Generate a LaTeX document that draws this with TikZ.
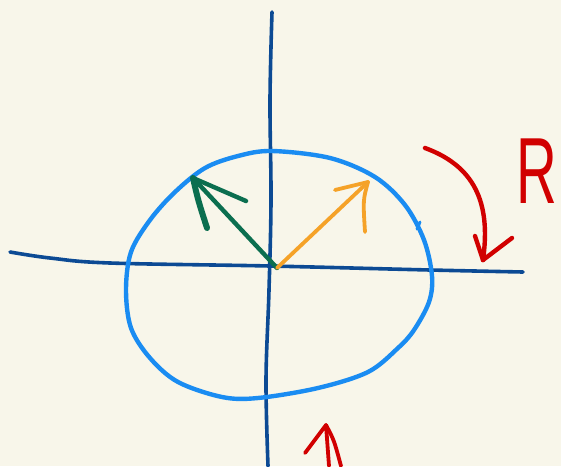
\documentclass[tikz,border=0pt]{standalone}
\usepackage{fontspec}
\newfontfamily\skizze{Liberation Sans}
\definecolor{papier}{HTML}{F8F6EA}
\definecolor{achsblau}{HTML}{0C4A94}
\definecolor{kreisblau}{HTML}{1A8CF2}
\definecolor{gruen}{HTML}{0B6E4F}
\definecolor{orange}{HTML}{F5A228}
\definecolor{rot}{HTML}{D10000}
\begin{document}
\begin{tikzpicture}[x=1pt, y=-1pt,
  stift/.style={line width=4pt, line cap=round, line join=round},
  achse/.style={stift, achsblau, line width=3.6pt},
  kreis/.style={stift, kreisblau, line width=4.4pt},
  pfeil/.style={stift, line width=4.4pt}]
  \useasboundingbox (0,0) rectangle (561,466);
  \fill[papier] (0,0) rectangle (561,466);
  % Achsen
  \draw[achse] plot[smooth, tension=0.6] coordinates {(10,252) (50,258) (110,263) (270,266) (430,270) (523,272)};
  \draw[achse] plot[smooth, tension=0.6] coordinates {(272,12) (270,100) (271,200) (269,290) (266,380) (268,466)};
  % Kreis
  \draw[kreis] plot[smooth cycle, tension=0.55] coordinates {(272,151) (330,158) (375,177) (405,205) (424,240) (432,276)
    (429,302) (414,330) (398,348) (368,372) (318,388) (258,398) (222,397) (178,382) (150,358) (131,328) (126,290)
    (131,252) (150,220) (175,192) (205,168) (238,156)};
  \draw[kreis, line width=3pt] (417,229) -- (420,222);
  % Vektoren
  \coordinate (o) at (277,268);
  \coordinate (g) at (193,178);
  \coordinate (p) at (368,182);
  \draw[pfeil, gruen] (o) -- (g);
  \draw[pfeil, gruen, line width=6pt] (g) .. controls (198,200) .. (207,228);
  \draw[pfeil, gruen] (g) .. controls (220,190) .. (246,201);
  \draw[pfeil, orange, line width=3.8pt] (o) -- (p);
  \draw[pfeil, orange, line width=3.8pt] (p) -- (335,190);
  \draw[pfeil, orange, line width=3.8pt] (p) .. controls (363,200) .. (365,232);
  % Drehrichtung
  \coordinate (r) at (483,260);
  \draw[pfeil, rot] (425,148) .. controls (480,168) and (490,210) .. (r);
  \draw[pfeil, rot] (r) -- (475,236);
  \draw[pfeil, rot] (r) -- (512,238);
  \node[text=rot, font=\skizze\fontsize{94}{94}\selectfont, inner sep=0pt, xscale=0.6, transform shape] (R) at (537,171) {R};
  % unten
  \coordinate (u) at (326,425);
  \draw[pfeil, rot, line width=3.8pt] (305,453) -- (u) -- (329,466);
  \draw[pfeil, rot, line width=3.8pt] (u) .. controls (334,440) .. (341,466);
\end{tikzpicture}
\end{document}
